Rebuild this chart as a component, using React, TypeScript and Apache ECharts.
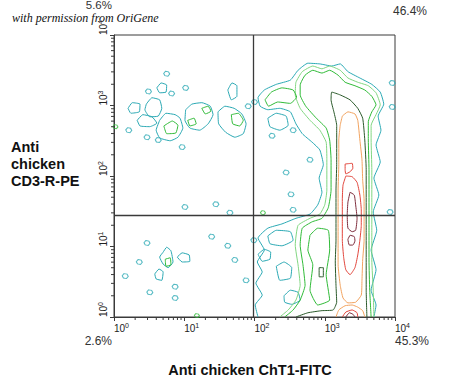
import React, { useEffect, useRef } from "react";
import * as echarts from "echarts";

// Axes are in decades: log10 of fluorescence intensity (10^0 .. 10^4)
const decades = [0, 1, 2, 3, 4];
const minorMultipliers = [2, 3, 4, 5, 6, 7, 8, 9];
const gateX = [1.98];
const gateY = [1.44];
const percentUL = "5.6%";
const percentUR = "46.4%";
const percentLL = "2.6%";
const percentLR = "45.3%";
const xTitle = "Anti chicken ChT1-FITC";
const yTitle = "Anti\nchicken\nCD3-R-PE";
const credit = "with permission from OriGene";

// Contour loops: [log10 ChT1-FITC, log10 CD3-R-PE]
const cyanEnvelope = [[2.05,0],[2.01,0.17],[2.11,0.31],[2.02,0.48],[2.11,0.64],[2.04,0.78],[2.14,0.95],[2.05,1.12],[2.19,1.26],[2.39,1.32],[2.59,1.40],[2.79,1.46],[2.90,1.59],[2.96,1.77],[2.92,1.97],[2.98,2.16],[2.93,2.37],[2.82,2.48],[2.68,2.60],[2.59,2.74],[2.51,2.91],[2.36,2.96],[2.19,2.94],[2.08,2.99],[2.05,3.11],[2.14,3.22],[2.31,3.30],[2.51,3.36],[2.62,3.50],[2.76,3.60],[2.93,3.59],[3.10,3.56],[3.22,3.59],[3.33,3.48],[3.50,3.39],[3.67,3.30],[3.79,3.19],[3.84,3.02],[3.76,2.85],[3.80,2.65],[3.73,2.44],[3.79,2.20],[3.70,1.97],[3.77,1.73],[3.69,1.49],[3.74,1.23],[3.66,0.95],[3.73,0.67],[3.66,0.38],[3.73,0.17],[3.70,0]];
const lightEnvelope = [[2.36,0],[2.48,0.10],[2.59,0.24],[2.65,0.45],[2.62,0.74],[2.58,1.02],[2.62,1.30],[2.79,1.40],[2.93,1.46],[3.00,1.59],[3.03,1.80],[3.03,2.23],[3.02,2.48],[2.93,2.65],[2.79,2.79],[2.65,2.96],[2.58,3.15],[2.59,3.33],[2.68,3.48],[2.83,3.56],[2.96,3.52],[3.07,3.56],[3.22,3.50],[3.33,3.39],[3.47,3.33],[3.62,3.28],[3.73,3.18],[3.79,3.01],[3.73,2.87],[3.66,2.72],[3.66,2.51],[3.67,2.09],[3.67,1.66],[3.67,1.23],[3.67,0.81],[3.69,0.38],[3.70,0]];
const greenEnvelope = [[2.43,0],[2.55,0.10],[2.65,0.24],[2.72,0.45],[2.69,0.74],[2.65,1.02],[2.68,1.26],[2.82,1.35],[2.96,1.40],[3.05,1.55],[3.09,1.80],[3.09,2.23],[3.07,2.51],[3.02,2.68],[2.88,2.82],[2.73,2.99],[2.65,3.15],[2.65,3.29],[2.72,3.43],[2.83,3.50],[2.96,3.46],[3.07,3.50],[3.19,3.43],[3.29,3.33],[3.43,3.28],[3.57,3.22],[3.67,3.13],[3.73,3.01],[3.67,2.91],[3.62,2.77],[3.62,2.51],[3.63,2.09],[3.63,1.66],[3.63,1.23],[3.63,0.81],[3.64,0.38],[3.66,0]];
const greenShoulder = [[2.79,1.16],[2.90,1.26],[3.05,1.23],[3.07,0.95],[3.02,0.60],[3.07,0.24],[2.90,0.17],[2.79,0.38],[2.83,0.74],[2.76,0.95]];
const greenUpperLeft = [[2.15,3.08],[2.24,3.19],[2.39,3.25],[2.55,3.22],[2.60,3.12],[2.51,3.03],[2.33,3.05],[2.20,2.99]];
const darkEnvelope = [[2.59,0],[2.76,0.06],[2.96,0.09],[3.12,0.10],[3.17,0.21],[3.16,0.45],[3.15,0.78],[3.16,1.09],[3.16,1.45],[3.16,1.80],[3.17,2.16],[3.17,2.51],[3.17,2.72],[3.13,2.91],[3.09,3.08],[3.10,3.19],[3.22,3.15],[3.36,3.08],[3.47,2.96],[3.54,2.82],[3.57,2.51],[3.59,2.09],[3.59,1.66],[3.59,1.23],[3.59,0.81],[3.59,0.38],[3.60,0]];
const darkSmall = [[2.92,0.70],[2.98,0.70],[2.98,0.57],[2.92,0.57]];
const orangeMain = [[3.25,2.85],[3.33,2.91],[3.43,2.88],[3.47,2.79],[3.50,2.51],[3.53,2.23],[3.54,1.94],[3.56,1.66],[3.56,1.38],[3.56,1.09],[3.54,0.81],[3.53,0.52],[3.52,0.31],[3.44,0.21],[3.33,0.20],[3.26,0.27],[3.22,0.45],[3.19,0.74],[3.19,1.09],[3.19,1.45],[3.19,1.80],[3.20,2.16],[3.20,2.51],[3.22,2.72]];
const orangeBase = [[3.16,0],[3.20,0.10],[3.29,0.16],[3.39,0.17],[3.47,0.14],[3.54,0.09],[3.57,0]];
const redMain = [[3.30,2.00],[3.39,1.99],[3.46,1.91],[3.50,1.73],[3.52,1.52],[3.52,1.30],[3.50,1.09],[3.47,0.88],[3.43,0.70],[3.36,0.60],[3.30,0.67],[3.27,0.84],[3.25,1.09],[3.25,1.38],[3.25,1.66],[3.26,1.87]];
const redSmall = [[3.29,2.17],[3.39,2.18],[3.40,2.11],[3.36,2.06],[3.30,2.03],[3.29,2.09]];
const redBase = [[3.25,0],[3.30,0.07],[3.39,0.10],[3.46,0.06],[3.47,0]];
const darkRedCore = [[3.36,1.77],[3.42,1.73],[3.44,1.59],[3.46,1.40],[3.44,1.23],[3.39,1.21],[3.33,1.26],[3.32,1.45],[3.33,1.63]];
const darkRedSmall = [[3.36,1.16],[3.42,1.14],[3.43,1.08],[3.40,1.02],[3.35,1.02],[3.33,1.10]];
const darkRedBase = [[3.30,0],[3.35,0.06],[3.40,0.04],[3.43,0]];

// Lower-right quadrant holes and upper-right loops
const cyanLR1 = [[2.42,0.30],[2.51,0.38],[2.62,0.35],[2.65,0.24],[2.53,0.18],[2.43,0.21]];
const cyanLR2 = [[2.05,0.89],[2.14,0.96],[2.23,0.92],[2.22,0.82],[2.11,0.79]];
const cyanLR3 = [[2.19,1.15],[2.31,1.23],[2.51,1.21],[2.55,1.09],[2.39,1.01],[2.22,1.04]];
const cyanLR4 = [[2.31,0.72],[2.42,0.78],[2.53,0.70],[2.51,0.55],[2.36,0.52]];
const cyanUR1 = [[2.19,2.82],[2.31,2.89],[2.45,2.85],[2.48,2.72],[2.36,2.65],[2.22,2.70]];

// Upper-left quadrant cluster
const ulB1 = [[0.20,2.96],[0.26,3.04],[0.37,3.02],[0.36,2.91],[0.24,2.89]];
const ulB2 = [[0.33,2.79],[0.41,2.87],[0.54,2.84],[0.61,2.75],[0.51,2.70],[0.37,2.71]];
const ulB3 = [[0.46,3.02],[0.54,3.11],[0.65,3.08],[0.68,2.96],[0.63,2.85],[0.51,2.84],[0.44,2.94]];
const ulB4 = [[0.65,2.79],[0.74,2.89],[0.87,2.87],[0.94,2.82],[0.98,2.68],[0.91,2.55],[0.80,2.50],[0.65,2.54],[0.60,2.65]];
const ulB4g = [[0.71,2.71],[0.83,2.78],[0.91,2.72],[0.88,2.61],[0.75,2.60]];
const ulB5 = [[0.61,3.25],[0.67,3.32],[0.75,3.29],[0.74,3.19],[0.65,3.18]];
const ulB6 = [[1.02,2.94],[1.11,3.02],[1.25,3.04],[1.37,2.99],[1.41,2.87],[1.34,2.74],[1.22,2.65],[1.08,2.68],[1.01,2.79]];
const ulB6g1 = [[1.25,2.96],[1.34,2.99],[1.38,2.92],[1.30,2.88]];
const ulB6g2 = [[1.05,2.79],[1.14,2.82],[1.17,2.74],[1.08,2.71]];
const ulB7 = [[1.48,2.91],[1.58,2.99],[1.71,2.96],[1.82,2.88],[1.88,2.74],[1.84,2.60],[1.72,2.55],[1.59,2.62],[1.49,2.74]];
const ulB7g = [[1.67,2.87],[1.77,2.89],[1.84,2.79],[1.79,2.71],[1.69,2.74]];
const ulB8 = [[1.62,3.22],[1.68,3.32],[1.75,3.28],[1.75,3.13],[1.67,3.08]];

// Lower-left quadrant cluster
const llB1 = [[0.70,0.92],[0.75,0.99],[0.81,0.94],[0.84,0.78],[0.77,0.70],[0.70,0.75],[0.65,0.85]];
const llB1g = [[0.73,0.82],[0.80,0.84],[0.81,0.74],[0.74,0.72]];
const llB2 = [[0.90,0.85],[0.97,0.91],[1.07,0.88],[1.08,0.79],[0.97,0.78]];
const llB3 = [[0.58,0.61],[0.64,0.68],[0.70,0.64],[0.68,0.52],[0.60,0.54]];

// Tiny isolated contour islands
const cyanSpots = [[0.75,3.45],[0.97,2.41],[0.63,2.51],[2.00,3.05],[0.21,2.65],[0.49,3.20],[0.82,3.17],[1.02,3.25],[0.47,2.55],[1.91,2.99],[1.01,1.56],[1.45,1.60],[1.65,1.48],[1.39,1.14],[0.47,1.05],[0.36,0.78],[0.16,0.58],[0.51,0.35],[0.87,0.43],[1.62,1.01],[1.72,0.81],[1.88,0.52],[1.99,1.09],[0.87,0.27],[2.25,2.57],[2.55,2.65],[2.79,2.23],[2.55,1.52],[2.52,1.74],[2.45,2.05],[3.96,3.32],[3.96,2.98],[3.93,1.49]];
const greenSpots = [[1.18,0.02],[0.02,2.70],[2.12,1.48]];

const COLORS = {
  cyan: "#2aa9b4",
  light: "#80d680",
  green: "#30bb38",
  dark: "#2b5a2b",
  orange: "#f2a35f",
  red: "#e2453c",
  darkred: "#7d2b3b",
};

type Level = keyof typeof COLORS;
const loops: [Level, number[][], boolean][] = [
  ["cyan", cyanEnvelope, false],
  ["cyan", cyanLR1, true], ["cyan", cyanLR2, true], ["cyan", cyanLR3, true], ["cyan", cyanLR4, true], ["cyan", cyanUR1, true],
  ["cyan", ulB1, true], ["cyan", ulB2, true], ["cyan", ulB3, true], ["cyan", ulB4, true], ["cyan", ulB5, true],
  ["cyan", ulB6, true], ["cyan", ulB7, true], ["cyan", ulB8, true],
  ["cyan", llB1, true], ["cyan", llB2, true], ["cyan", llB3, true],
  ["light", lightEnvelope, false],
  ["green", greenEnvelope, false], ["green", greenShoulder, true], ["green", greenUpperLeft, true],
  ["green", ulB4g, true], ["green", ulB6g1, true], ["green", ulB6g2, true], ["green", ulB7g, true], ["green", llB1g, true],
  ["dark", darkEnvelope, false], ["dark", darkSmall, true],
  ["orange", orangeMain, true], ["orange", orangeBase, false],
  ["red", redMain, true], ["red", redSmall, true], ["red", redBase, false],
  ["darkred", darkRedCore, true], ["darkred", darkRedSmall, true], ["darkred", darkRedBase, false],
];

const FONT = "Liberation Sans, Arial, sans-serif";
const AXIS_COLOR = "#3a3a3a";
const BLOB = "path://M3,0 L8,1 L10,5 L7,9 L2,8 L0,4 Z";

export default function App() {
  const ref = useRef<HTMLDivElement>(null);
  useEffect(() => {
    if (!ref.current) return;
    const chart = echarts.init(ref.current, undefined, { renderer: "svg" });
    const minorValues = decades.slice(0, -1).flatMap((d) => minorMultipliers.map((m) => d + Math.log10(m)));

    const labelCommon = {
      formatter: (v: number) => `10{s|${v}}`,
      color: "#222",
      fontFamily: FONT,
      fontSize: 10,
      lineHeight: 12,
      rich: { s: { fontSize: 7, lineHeight: 7, verticalAlign: "top", fontFamily: FONT, color: "#222" } },
    };

    const series: any[] = loops.map(([level, pts, closed]) => ({
      type: "line",
      data: closed ? [...pts, pts[0]] : pts,
      showSymbol: false,
      symbol: "none",
      smooth: 0.15,
      silent: true,
      lineStyle: { color: COLORS[level], width: 1 },
      z: 2,
    }));
    series.push({
      type: "scatter",
      data: cyanSpots,
      symbol: BLOB,
      symbolSize: [6, 5],
      silent: true,
      itemStyle: { color: "rgba(0,0,0,0)", borderColor: COLORS.cyan, borderWidth: 1 },
      z: 2,
    });
    series.push({
      type: "scatter",
      data: greenSpots,
      symbol: BLOB,
      symbolSize: [5, 4],
      silent: true,
      itemStyle: { color: "rgba(0,0,0,0)", borderColor: COLORS.green, borderWidth: 1 },
      z: 2,
    });
    series.push({
      type: "line",
      data: [],
      silent: true,
      z: 4,
      markLine: {
        symbol: "none",
        silent: true,
        animation: false,
        label: { show: false },
        lineStyle: { color: AXIS_COLOR, width: 1.3, type: "solid" },
        data: [...gateX.map((v) => ({ xAxis: v })), ...gateY.map((v) => ({ yAxis: v }))],
      },
    });
    series.push({
      type: "custom",
      data: minorValues.map((v) => [v, 0]),
      silent: true,
      clip: false,
      z: 5,
      renderItem: (_p: any, api: any) => {
        const c = api.coord([api.value(0), 0]);
        return { type: "line", shape: { x1: c[0], y1: c[1], x2: c[0], y2: c[1] + 3 }, style: { stroke: AXIS_COLOR, lineWidth: 1 } };
      },
    });
    series.push({
      type: "custom",
      data: minorValues.map((v) => [0, v]),
      silent: true,
      clip: false,
      z: 5,
      renderItem: (_p: any, api: any) => {
        const c = api.coord([0, api.value(1)]);
        return { type: "line", shape: { x1: c[0] - 3, y1: c[1], x2: c[0], y2: c[1] }, style: { stroke: AXIS_COLOR, lineWidth: 1 } };
      },
    });

    chart.setOption({
      animation: false,
      backgroundColor: "#ffffff",
      grid: { left: 114, top: 35, width: 281, height: 282, show: true, borderColor: AXIS_COLOR, borderWidth: 1, backgroundColor: "transparent" },
      xAxis: {
        type: "value",
        min: decades[0],
        max: decades[decades.length - 1],
        interval: 1,
        axisLine: { show: true, lineStyle: { color: AXIS_COLOR, width: 1 } },
        axisTick: { show: true, length: 4, lineStyle: { color: AXIS_COLOR } },
        splitLine: { show: false },
        axisLabel: { ...labelCommon, align: "left", margin: 5 },
      },
      yAxis: {
        type: "value",
        min: decades[0],
        max: decades[decades.length - 1],
        interval: 1,
        axisLine: { show: true, lineStyle: { color: AXIS_COLOR, width: 1 } },
        axisTick: { show: true, length: 4, lineStyle: { color: AXIS_COLOR } },
        splitLine: { show: false },
        axisLabel: { ...labelCommon, rotate: 90, align: "left", verticalAlign: "middle", margin: 11 },
      },
      graphic: [
        { type: "text", left: 12, top: 12, style: { text: credit, font: "italic 12px 'Liberation Serif', serif", fill: "#111" } },
        { type: "text", x: 112, y: 5, style: { text: percentUL, font: `11.5px ${FONT}`, fill: "#333", align: "right", verticalAlign: "middle" } },
        { type: "text", x: 393, y: 11, style: { text: percentUR, font: `12px ${FONT}`, fill: "#333", align: "left", verticalAlign: "middle" } },
        { type: "text", x: 112, y: 341, style: { text: percentLL, font: `12px ${FONT}`, fill: "#333", align: "right", verticalAlign: "middle" } },
        { type: "text", x: 395, y: 341, style: { text: percentLR, font: `12px ${FONT}`, fill: "#333", align: "left", verticalAlign: "middle" } },
        { type: "text", x: 250, y: 370, style: { text: xTitle, font: `bold 14.5px ${FONT}`, fill: "#111", align: "center", verticalAlign: "middle" } },
        { type: "text", x: 11, y: 139, style: { text: yTitle, font: `bold 14.5px ${FONT}`, fill: "#111", align: "left", verticalAlign: "top", lineHeight: 16.7 } },
      ],
      series,
    });
    return () => chart.dispose();
  }, []);
  return <div ref={ref} style={{ position: "fixed", left: 0, top: 0, width: 450, height: 387 }} />;
}
